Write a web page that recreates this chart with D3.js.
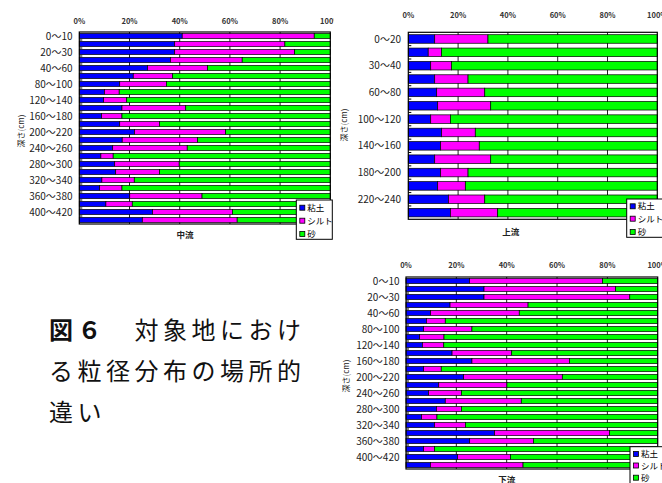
<!DOCTYPE html>
<html>
<head>
<meta charset="utf-8">
<script src="https://cdn.jsdelivr.net/npm/d3@7/dist/d3.min.js"></script>
<style>
  body { margin: 0; background: #fff; }
  svg { display: block; }
  text { font-family: "Noto Sans CJK JP", "Noto Sans", sans-serif; }
</style>
</head>
<body>
<svg id="fig" width="662" height="483"></svg>
<script>
// ---- data (percent) ----
var keys = ['clay', 'silt', 'sand'];
var keyNames = ['粘土', 'シルト', '砂'];
var keyColors = ['#0000ff', '#ff00ff', '#00ff00'];

// 中流
var midCats = ['0～10', '10～20', '20～30', '30～40', '40～60', '60～80', '80～100', '100～120',
  '120～140', '140～160', '160～180', '180～200', '200～220', '220～240', '240～260', '260～280',
  '280～300', '300～320', '320～340', '340～360', '360～380', '380～400', '400～420', '420～440'];
var midClay = [41.0, 38.0, 38.0, 36.3, 27.2, 21.5, 16.1, 10.0, 9.7, 17.0, 8.9, 16.1,
  22.0, 17.1, 13.3, 8.6, 14.1, 14.5, 9.0, 8.1, 20.1, 10.6, 29.2, 25.1];
var midSilt = [52.6, 43.9, 47.8, 28.6, 23.9, 15.7, 18.6, 5.9, 9.2, 25.4, 8.1, 15.9,
  36.3, 30.0, 29.7, 4.9, 25.7, 17.5, 12.9, 8.9, 28.8, 10.5, 31.8, 37.8];
var midSand = [6.4, 18.1, 14.2, 35.1, 48.9, 62.8, 65.3, 84.1, 81.1, 57.6, 83.0, 68.0,
  41.7, 52.9, 57.0, 86.5, 60.2, 68.0, 78.1, 83.0, 51.1, 78.9, 39.0, 37.1];

// 上流
var upCats = ['0～20', '20～30', '30～40', '40～60', '60～80', '80～100', '100～120',
  '120～140', '140～160', '160～180', '180～200', '200～220', '220～240', '240～260'];
var upClay = [10.6, 8.0, 9.0, 10.6, 11.4, 11.8, 9.0, 13.4, 13.0, 10.6, 13.0, 11.8, 16.1, 16.9];
var upSilt = [21.4, 5.3, 8.3, 13.4, 19.3, 21.3, 7.9, 13.5, 15.5, 22.5, 11.0, 11.1, 14.6, 19.0];
var upSand = [68.0, 86.7, 82.7, 76.0, 69.3, 66.9, 83.1, 73.1, 71.5, 66.9, 76.0, 77.1, 69.3, 64.1];

// 下流
var lowCats = midCats.slice();
var lowClay = [25.2, 31.0, 31.0, 17.5, 9.8, 8.1, 7.0, 5.4, 6.5, 18.3, 26.2, 7.0,
  22.9, 13.0, 9.0, 15.6, 12.1, 6.2, 11.3, 35.2, 25.3, 7.0, 20.5, 9.7];
var lowSilt = [52.9, 52.3, 57.9, 31.0, 35.2, 7.5, 19.2, 9.7, 8.5, 23.7, 38.7, 7.0,
  39.2, 27.1, 13.0, 30.2, 9.9, 6.1, 12.3, 45.7, 25.3, 4.3, 21.0, 36.8];
var lowSand = [21.9, 16.7, 11.1, 51.5, 55.0, 84.4, 73.8, 84.9, 85.0, 58.0, 35.1, 86.0,
  37.9, 59.9, 78.0, 54.2, 78.0, 87.7, 76.4, 19.1, 49.4, 88.7, 58.5, 53.5];

var xTicks = [0, 20, 40, 60, 80, 100];
var caption = ['図６　対象地におけ', 'る粒径分布の場所的', '違い'];

// ---- layout ----
var panels = [
  { id: 'mid', title: '中流', cats: midCats, clay: midClay, silt: midSilt, sand: midSand,
    left: 79.3, right: 330.3, top: 32, bottom: 224, xLabelY: 23.5, labelRight: 72.5,
    titleX: 185, titleY: 237.5, yTitleX: 21.5, yTitleY: 131, clipRight: 333.5,
    legend: { x: 296.3, y: 200, w: 36, h: 39.3, rows: [207.7, 220.7, 234] } },
  { id: 'up', title: '上流', cats: upCats, clay: upClay, silt: upSilt, sand: upSand,
    left: 408.3, right: 657.3, top: 32.3, bottom: 219.3, xLabelY: 17.8, labelRight: 401,
    titleX: 510.7, titleY: 235.2, yTitleX: 344.5, yTitleY: 125, clipRight: 662,
    legend: { x: 626.7, y: 199, w: 40, h: 38.3, rows: [206.3, 218.7, 232] } },
  { id: 'low', title: '下流', cats: lowCats, clay: lowClay, silt: lowSilt, sand: lowSand,
    left: 406, right: 657.7, top: 277, bottom: 469, xLabelY: 267.8, labelRight: 399.5,
    titleX: 506.7, titleY: 482.5, yTitleX: 346.5, yTitleY: 376, clipRight: 662,
    legend: { x: 630, y: 446.7, w: 40, h: 40, rows: [454, 465.5, 477.7] } }
];

var svg = d3.select('#fig');
var defs = svg.append('defs');

var drawPanel = function(p) {
  defs.append('clipPath').attr('id', 'clip-' + p.id)
    .append('rect').attr('x', 0).attr('y', 0).attr('width', p.clipRight).attr('height', 483);

  var g = svg.append('g').attr('clip-path', 'url(#clip-' + p.id + ')');

  var rows = p.cats.map(function(c, i) {
    return { cat: c, clay: p.clay[i], silt: p.silt[i], sand: p.sand[i] };
  });

  var x = d3.scaleLinear().domain([0, 100]).range([p.left, p.right]);
  var y = d3.scaleBand().domain(p.cats).range([p.top, p.bottom])
    .paddingInner(0.36).paddingOuter(0.18);

  // plot background + grid
  g.append('rect')
    .attr('x', p.left).attr('y', p.top)
    .attr('width', p.right - p.left).attr('height', p.bottom - p.top)
    .attr('fill', '#fff');

  g.selectAll('line.grid').data(xTicks.slice(1, -1)).enter().append('line')
    .attr('class', 'grid')
    .attr('x1', function(d) { return x(d); }).attr('x2', function(d) { return x(d); })
    .attr('y1', p.top).attr('y2', p.bottom)
    .attr('stroke', '#222').attr('stroke-width', 1);

  // stacked bars
  var series = d3.stack().keys(keys)(rows);
  g.selectAll('g.layer').data(series).enter().append('g')
    .attr('class', 'layer')
    .attr('fill', function(d, i) { return keyColors[i]; })
    .selectAll('rect').data(function(d) { return d; }).enter().append('rect')
    .attr('x', function(d) { return x(d[0]); })
    .attr('width', function(d) { return x(d[1]) - x(d[0]); })
    .attr('y', function(d) { return y(d.data.cat); })
    .attr('height', y.bandwidth())
    .attr('stroke', '#000').attr('stroke-width', 0.7);

  // frame
  g.append('rect')
    .attr('x', p.left).attr('y', p.top)
    .attr('width', p.right - p.left).attr('height', p.bottom - p.top)
    .attr('fill', 'none').attr('stroke', '#000').attr('stroke-width', 1.2);

  // category tick marks between bars
  var step = y.step();
  g.selectAll('line.ctick').data(p.cats.slice(1)).enter().append('line')
    .attr('class', 'ctick')
    .attr('x1', p.left).attr('x2', p.left + 3)
    .attr('y1', function(d) { return y(d) - (step - y.bandwidth()) / 2; })
    .attr('y2', function(d) { return y(d) - (step - y.bandwidth()) / 2; })
    .attr('stroke', '#000').attr('stroke-width', 1);

  // x labels (top)
  g.selectAll('text.xl').data(xTicks).enter().append('text')
    .attr('class', 'xl')
    .attr('x', function(d) { return x(d); })
    .attr('y', p.xLabelY)
    .attr('text-anchor', 'middle')
    .attr('font-size', 7.5).attr('font-weight', 'bold').attr('fill', '#333')
    .text(function(d) { return d + '%'; });

  // category labels, every other one
  g.selectAll('text.yl').data(p.cats.filter(function(d, i) { return i % 2 === 0; }))
    .enter().append('text')
    .attr('class', 'yl')
    .attr('x', p.labelRight)
    .attr('y', function(d) { return y(d) + y.bandwidth() / 2; })
    .attr('dy', '0.36em')
    .attr('text-anchor', 'end')
    .attr('font-size', 10).attr('fill', '#222')
    .text(function(d) { return d; });

  // axis title
  g.append('text')
    .attr('transform', 'translate(' + p.yTitleX + ',' + p.yTitleY + ') rotate(-90)')
    .attr('text-anchor', 'middle').attr('dy', '0.35em')
    .attr('font-size', 8).attr('fill', '#222')
    .text('深さ(cm)');

  // chart title
  g.append('text')
    .attr('x', p.titleX).attr('y', p.titleY)
    .attr('text-anchor', 'middle')
    .attr('font-size', 8.5).attr('font-weight', 'bold').attr('fill', '#222')
    .text(p.title);

  // legend
  var lg = g.append('g');
  lg.append('rect')
    .attr('x', p.legend.x).attr('y', p.legend.y)
    .attr('width', p.legend.w).attr('height', p.legend.h)
    .attr('fill', '#fff').attr('stroke', '#000').attr('stroke-width', 1);
  keys.forEach(function(k, i) {
    var ry = p.legend.rows[i];
    lg.append('rect')
      .attr('x', p.legend.x + 3.5).attr('y', ry - 2.5)
      .attr('width', 5).attr('height', 5)
      .attr('fill', keyColors[i]).attr('stroke', '#000').attr('stroke-width', 0.8);
    lg.append('text')
      .attr('x', p.legend.x + 11).attr('y', ry).attr('dy', '0.36em')
      .attr('font-size', 8.5).attr('fill', '#000')
      .text(keyNames[i]);
  });
};

panels.forEach(drawPanel);

// caption
var cap = svg.append('text')
  .attr('font-size', 24).attr('fill', '#111')
  .style('letter-spacing', '4.5px');
caption.forEach(function(line, i) {
  var t = cap.append('tspan').attr('x', 49).attr('y', 339 + i * 41);
  if (i === 0) {
    t.append('tspan').attr('font-weight', 'bold').text(line.slice(0, 2));
    t.append('tspan').text(line.slice(2));
  } else {
    t.text(line);
  }
});
</script>
</body>
</html>
